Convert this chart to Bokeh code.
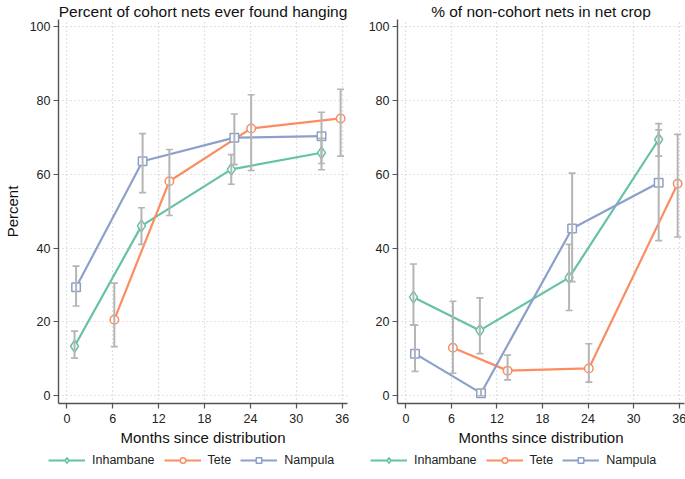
from bokeh.plotting import figure
from bokeh.models import (Whisker, TeeHead, ColumnDataSource, Legend, LegendItem,
                          FixedTicker, Range1d)
from bokeh.layouts import row, column
from bokeh.embed import file_html
from bokeh.resources import INLINE

# ---------------- data ----------------
month_ticks = [0, 6, 12, 18, 24, 30, 36]
pct_ticks = [0, 20, 40, 60, 80, 100]
regions = ["Inhambane", "Tete", "Nampula"]
colors = ["#66c2a5", "#fc8d62", "#8da0cb"]
markers = ["diamond", "circle", "square"]

inh_x = [1.0, 9.75, 21.5, 33.3]
tete_x = [6.2, 13.4, 24.1, 35.8]
nam_x = [1.2, 9.9, 21.9, 33.3]

# Panel 1: percent of cohort nets ever found hanging
hang_inh = [13.4, 46.0, 61.3, 65.8]
hang_inh_lo = [10.2, 41.0, 57.3, 61.2]
hang_inh_hi = [17.5, 50.9, 65.3, 69.7]
hang_tete = [20.6, 58.1, 72.4, 75.1]
hang_tete_lo = [13.3, 48.8, 61.0, 64.9]
hang_tete_hi = [30.5, 66.7, 81.5, 83.0]
hang_nam = [29.4, 63.5, 69.9, 70.3]
hang_nam_lo = [24.3, 55.0, 62.6, 62.9]
hang_nam_hi = [35.1, 71.0, 76.3, 76.8]

# Panel 2: % of non-cohort nets in net crop
crop_inh = [26.7, 17.7, 32.0, 69.4]
crop_inh_lo = [19.2, 11.4, 23.1, 64.9]
crop_inh_hi = [35.7, 26.5, 41.0, 73.7]
crop_tete = [13.0, 6.8, 7.4, 57.4]
crop_tete_lo = [6.1, 4.3, 3.7, 43.0]
crop_tete_hi = [25.6, 11.0, 14.1, 70.8]
crop_nam = [11.4, 0.7, 45.3, 57.7]
crop_nam_lo = [6.6, 0.0, 30.9, 42.0]
crop_nam_hi = [19.1, 1.8, 60.3, 72.0]

FONT = "Liberation Sans"


def make_panel(title, series, ylabel, border_left, frame_w, border_right):
    p = figure(output_backend="svg", toolbar_location=None,
               frame_width=frame_w, frame_height=384,
               min_border_left=border_left, min_border_right=border_right,
               min_border_top=0, min_border_bottom=44,
               x_range=Range1d(-1.1, 36.7), y_range=Range1d(-2.1, 101.9),
               title=title)
    p.title.text_font = FONT
    p.title.text_font_size = "15.5px"
    p.title.text_font_style = "normal"
    p.title.align = "center"
    p.title.text_color = "#111111"
    p.title.standoff = 0
    p.outline_line_color = None
    p.background_fill_color = "white"
    p.border_fill_color = "white"

    for ax in (p.xaxis[0], p.yaxis[0]):
        ax.axis_line_color = "#555555"
        ax.axis_line_width = 1.4
        ax.major_tick_line_color = "#555555"
        ax.major_tick_line_width = 1.2
        ax.major_tick_out = 5
        ax.major_tick_in = 0
        ax.minor_tick_line_color = None
        ax.major_label_text_font = FONT
        ax.major_label_text_font_size = "12.5px"
        ax.major_label_text_color = "#222222"
        ax.axis_label_text_font = FONT
        ax.axis_label_text_font_style = "normal"
        ax.axis_label_text_color = "#111111"
    p.xaxis.ticker = FixedTicker(ticks=month_ticks)
    p.yaxis.ticker = FixedTicker(ticks=pct_ticks)
    p.xaxis.axis_label = "Months since distribution"
    p.xaxis.axis_label_text_font_size = "15px"
    p.xaxis.axis_label_standoff = 3
    p.xaxis.major_label_standoff = 5
    if ylabel:
        p.yaxis.axis_label = ylabel
        p.yaxis.axis_label_text_font_size = "15px"
        p.yaxis.axis_label_standoff = 6
    p.yaxis.major_label_standoff = 3

    for g in (p.xgrid[0], p.ygrid[0]):
        g.grid_line_color = "#c4c4c4"
        g.grid_line_dash = "1 3"
        g.grid_line_width = 1.2

    srcs = []
    for name, col, mk, (xs, ys, lo, hi) in zip(regions, colors, markers, series):
        src = ColumnDataSource(dict(x=xs, y=ys, lo=lo, hi=hi))
        srcs.append(src)
        w = Whisker(source=src, base="x", lower="lo", upper="hi", dimension="height",
                    line_color="#b5b5b5", line_width=2,
                    upper_head=TeeHead(size=7, line_color="#b5b5b5", line_width=1.6),
                    lower_head=TeeHead(size=7, line_color="#b5b5b5", line_width=1.6))
        w.level = "glyph"
        p.add_layout(w)
    for src, col, mk in zip(srcs, colors, markers):
        p.line("x", "y", source=src, line_color=col, line_width=2.2)
        sz = 12 if mk == "diamond" else 8.5
        p.scatter("x", "y", source=src, marker=mk, size=sz, line_color=col,
                  line_width=1.5, fill_color="white")
    return p, srcs


s1 = [(inh_x, hang_inh, hang_inh_lo, hang_inh_hi),
      (tete_x, hang_tete, hang_tete_lo, hang_tete_hi),
      (nam_x, hang_nam, hang_nam_lo, hang_nam_hi)]
s2 = [(inh_x, crop_inh, crop_inh_lo, crop_inh_hi),
      (tete_x, crop_tete, crop_tete_lo, crop_tete_hi),
      (nam_x, crop_nam, crop_nam_lo, crop_nam_hi)]

p1, src1 = make_panel("Percent of cohort nets ever found hanging", s1, "Percent", 37, 289, 8)
p2, src2 = make_panel("% of non-cohort nets in net crop", s2, None, 42, 287, 4)

# legend strip below both panels: series renderers sit outside its (empty) view,
# only their legend keys are shown
lf = figure(output_backend="svg", toolbar_location=None, width=669, height=22,
            x_range=Range1d(1000, 1001), y_range=Range1d(1000, 1001),
            x_axis_location=None, y_axis_location=None,
            min_border=0, outline_line_color=None)
lf.grid.visible = False
items = []
for name, col, mk, src in zip(regions, colors, markers, src1):
    ln = lf.line("x", "y", source=src, line_color=col, line_width=2.2)
    sz = 12 if mk == "diamond" else 8.5
    sc = lf.scatter("x", "y", source=src, marker=mk, size=sz, line_color=col,
                    line_width=1.5, fill_color="white")
    items.append((name, [ln, sc]))

for lx in (48, 370):
    leg = Legend(items=[LegendItem(label=n, renderers=r) for n, r in items],
                 orientation="horizontal", location=(lx, 3),
                 glyph_width=37, glyph_height=14, spacing=9, padding=0, margin=0,
                 label_text_font=FONT, label_text_font_size="12.5px",
                 label_text_color="#222222", label_standoff=7,
                 label_height=14,
                 border_line_color=None, background_fill_alpha=0)
    lf.add_layout(leg)

layout = column(row(p1, p2, spacing=0), lf, spacing=0)
open("out.html", "w").write(file_html(layout, INLINE))
